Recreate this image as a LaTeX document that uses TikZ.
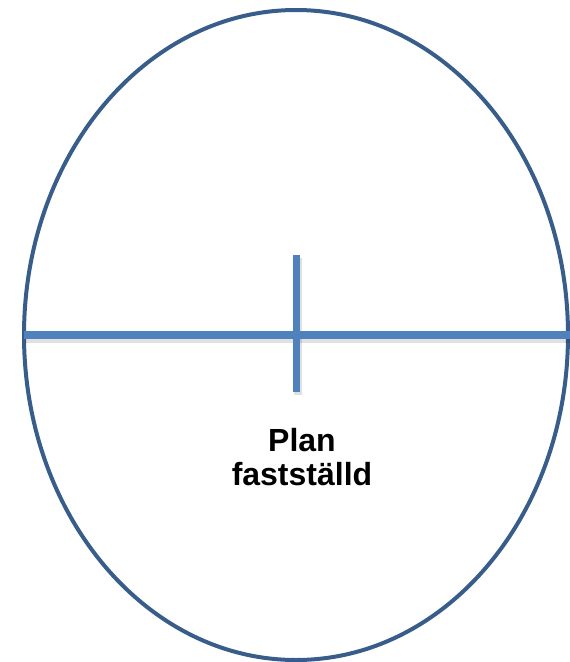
\documentclass[tikz,border=0pt]{standalone}
\usepackage{fontspec}
\setmainfont{Liberation Sans}
\usetikzlibrary{shapes.geometric}
\definecolor{rimblue}{HTML}{385D8A}
\definecolor{barblue}{HTML}{4F81BD}
\begin{document}
\begin{tikzpicture}[x=1pt,y=-1pt,
  rim/.style={ellipse,draw=rimblue,line width=4pt,inner sep=0pt,outer sep=0pt},
  bar/.style={draw=barblue,line width=7.5pt},
  shade/.style={draw=black,opacity=0.12,line width=8pt},
  lbl/.style={font=\bfseries\fontsize{32}{34}\selectfont,align=center}]
 \useasboundingbox (0,0) rectangle (570,662);
 \node[rim,minimum width=544pt,minimum height=650pt] (egg) at (296,335) {};
 \coordinate (hr) at (570,335);
 \coordinate (vt) at (296.5,255);
 \coordinate (vb) at (296.5,392);
 % soft shadow under the bars
 \draw[shade] ([shift={(1,3.5)}]egg.west) -- ([shift={(0,3.5)}]hr);
 \draw[shade] ([shift={(1,3)}]vt) -- ([shift={(1,3)}]vb);
 \draw[bar] (egg.west) -- (hr);
 \draw[bar] (vt) -- (vb);
 \node[lbl] (plan) at (302,457) {Plan\\fastställd};
\end{tikzpicture}
\end{document}
